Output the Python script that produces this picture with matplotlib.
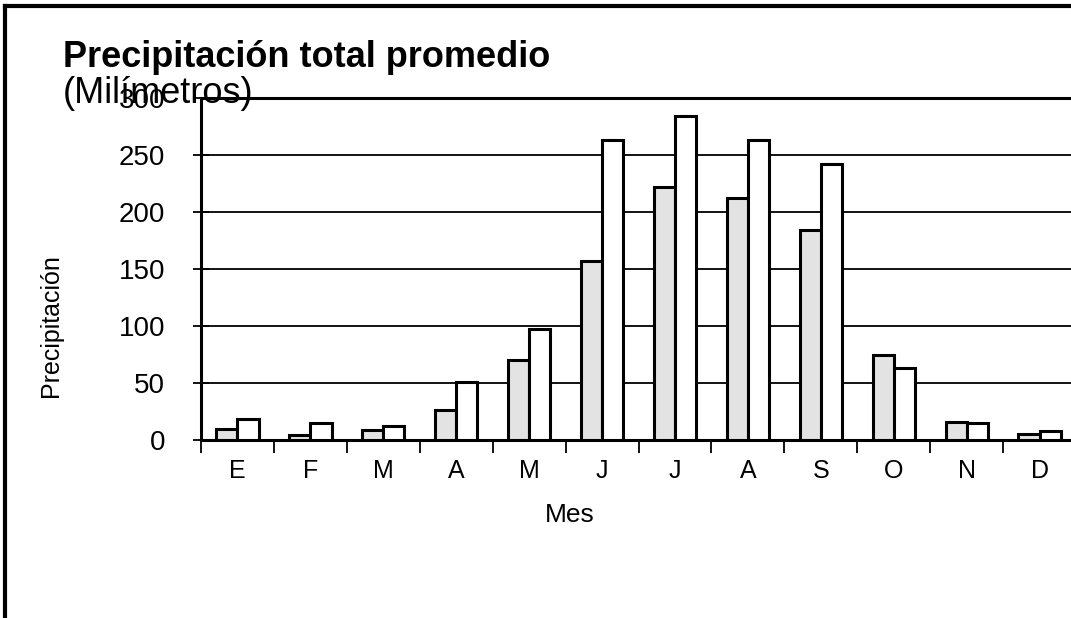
import numpy as np
import matplotlib.pyplot as plt
from matplotlib.lines import Line2D

plt.rcParams['font.family'] = ['Liberation Sans', 'DejaVu Sans']

# monthly averages, two series
meses = ['E', 'F', 'M', 'A', 'M', 'J', 'J', 'A', 'S', 'O', 'N', 'D']
serie_gris = [10, 4, 9, 26, 70, 157, 222, 212, 184, 75, 16, 5]
serie_blanca = [18, 15, 12, 51, 97, 263, 284, 263, 242, 63, 15, 8]

fig = plt.figure(figsize=(10.71, 6.18), dpi=100)
ax = fig.add_axes([0.1877, 0.288, 0.817, 0.5534])

x = np.arange(len(meses)) + 0.5
w = 0.29
ax.bar(x - w / 2, serie_gris, w, color='#e3e3e3', edgecolor='black', linewidth=2.2, zorder=3)
ax.bar(x + w / 2, serie_blanca, w, color='white', edgecolor='black', linewidth=2.2, zorder=3)

ax.set_xlim(0, 12)
ax.set_ylim(0, 300)
ax.set_yticks([0, 50, 100, 150, 200, 250, 300])
ax.yaxis.grid(True, color='black', linewidth=1.3, zorder=0)
ax.set_axisbelow(True)

# ticks on the month boundaries, labels centred between them
ax.set_xticks(np.arange(0, 13))
ax.set_xticklabels([])
ax.set_xticks(x, minor=True)
ax.set_xticklabels(meses, minor=True, fontsize=18)
ax.tick_params(axis='x', which='major', direction='out', length=9, width=1.3)
ax.tick_params(axis='x', which='minor', length=0, pad=14)
ax.tick_params(axis='y', direction='inout', length=12, width=1.3, labelsize=20, pad=20)

for s in ['left', 'bottom', 'top']:
    ax.spines[s].set_linewidth(2.2)
ax.spines['right'].set_visible(False)

ax.set_xlabel('Mes', fontsize=19)
ax.xaxis.set_label_coords(0.4217, -0.184)
ax.set_ylabel('Precipitación', fontsize=18)
ax.yaxis.set_label_coords(-0.1577, 0.336)

fig.text(0.0588, 0.8916, 'Precipitación total promedio', fontsize=26, fontweight='bold',
         ha='left', va='baseline')
fig.text(0.0588, 0.8333, '(Milímetros)', fontsize=26, ha='left', va='baseline')

# outer frame, open on the right and bottom
fig.add_artist(Line2D([0.005, 0.005], [0, 0.991], color='black', linewidth=3, transform=fig.transFigure))
fig.add_artist(Line2D([0.005, 1], [0.991, 0.991], color='black', linewidth=3, transform=fig.transFigure))

fig.savefig('out.png', dpi=100)
